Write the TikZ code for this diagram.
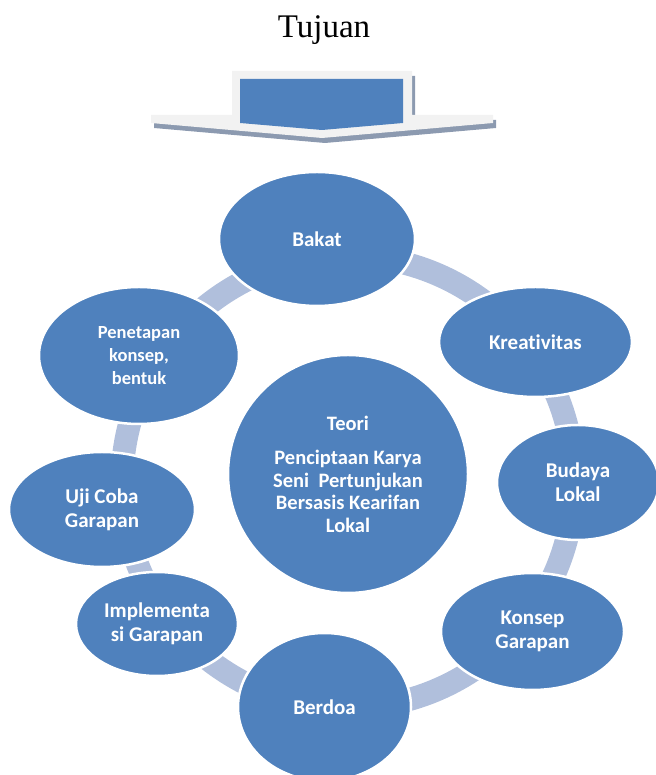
\documentclass[tikz,border=0pt]{standalone}
\usepackage{fontspec}
\newfontfamily\calib{Carlito}[Ligatures=NoCommon]
\newfontfamily\titlefont{Liberation Serif}
\usetikzlibrary{shapes.geometric,calc,backgrounds}
\definecolor{nodeblue}{RGB}{79,129,189}
\definecolor{arcblue}{RGB}{176,191,220}
\definecolor{framegray}{RGB}{242,242,242}
\definecolor{shadowgray}{RGB}{140,154,176}
\newcommand\ringarc[2]{%
  \draw[conn] let \p1=($(#1.center)-(ring)$), \p2=($(#2.center)-(ring)$),
    \n1={atan2(\y1,\x1)}, \n2={atan2(\y2,\x2)},
    \n3={ifthenelse(\n2>\n1,\n2-360,\n2)} in
    ($(ring)+(\n1:226pt)$) arc[start angle=\n1, end angle=\n3, radius=226pt];}
\begin{document}
\begin{tikzpicture}[x=1pt,y=1pt,
  cyc/.style={ellipse, fill=nodeblue, draw=white, line width=2.5pt, inner sep=0pt,
    text=white, align=center, font=\calib\bfseries\fontsize{21}{24}\selectfont},
  conn/.style={draw=arcblue, line width=23pt},
  titletext/.style={font=\titlefont\fontsize{33}{38}\selectfont, anchor=base, inner sep=0pt}]
\useasboundingbox (0,0) rectangle (655,775);

% title
\node[titletext] (title) at (324,737) {Tujuan};

% top arrow shape
\fill[shadowgray, shift={(3,-5)}] (232,704) -- (412,704) -- (412,660) -- (493,660)
  -- (493,652) -- (322,637) -- (151,652) -- (151,660) -- (232,660) -- cycle;
\fill[framegray] (232,704) -- (412,704) -- (412,660) -- (493,660)
  -- (493,652) -- (322,637) -- (151,652) -- (151,660) -- (232,660) -- cycle;
\fill[nodeblue] (240,696) -- (403,696) -- (403,652) -- (322,645) -- (240,652) -- cycle;

% ring centre
\coordinate (ring) at (348,293);

% cycle nodes
\node[cyc, minimum width=196pt, minimum height=134pt] (bakat) at (317,536) {Bakat};
\node[cyc, minimum width=193pt, minimum height=110pt] (kreat) at (535.5,433) {Kreativitas};
\node[cyc, minimum width=162pt, minimum height=115pt] (budaya) at (578,292.5) {Budaya\\Lokal};
\node[cyc, minimum width=183pt, minimum height=117pt] (konsep) at (532.5,143.5) {Konsep\\Garapan};
\node[cyc, minimum width=173pt, minimum height=148pt] (berdoa) at (324.5,68) {Berdoa};
\node[cyc, minimum width=162pt, minimum height=104pt] (impl) at (157,151) {Implementa\\si Garapan};
\node[cyc, minimum width=186pt, minimum height=115pt] (uji) at (102,265.5) {Uji Coba\\Garapan};
\node[cyc, minimum width=200pt, minimum height=137pt,
  font=\calib\bfseries\fontsize{18.5}{23}\selectfont] (penet) at (139,419.5) {Penetapan\\konsep,\\bentuk};

% centre circle
\node[cyc, minimum width=240pt, minimum height=238pt,
  font=\calib\bfseries\fontsize{20.5}{22.5}\selectfont] (teori) at (348,301)
  {Teori\\[12pt]Penciptaan Karya\\Seni~ Pertunjukan\\Bersasis Kearifan\\Lokal};

% connectors (ring segments) under the nodes
\begin{scope}[on background layer]
\ringarc{bakat}{kreat}
\ringarc{kreat}{budaya}
\ringarc{budaya}{konsep}
\ringarc{konsep}{berdoa}
\ringarc{berdoa}{impl}
\ringarc{impl}{uji}
\ringarc{uji}{penet}
\ringarc{penet}{bakat}
\end{scope}
\end{tikzpicture}
\end{document}
